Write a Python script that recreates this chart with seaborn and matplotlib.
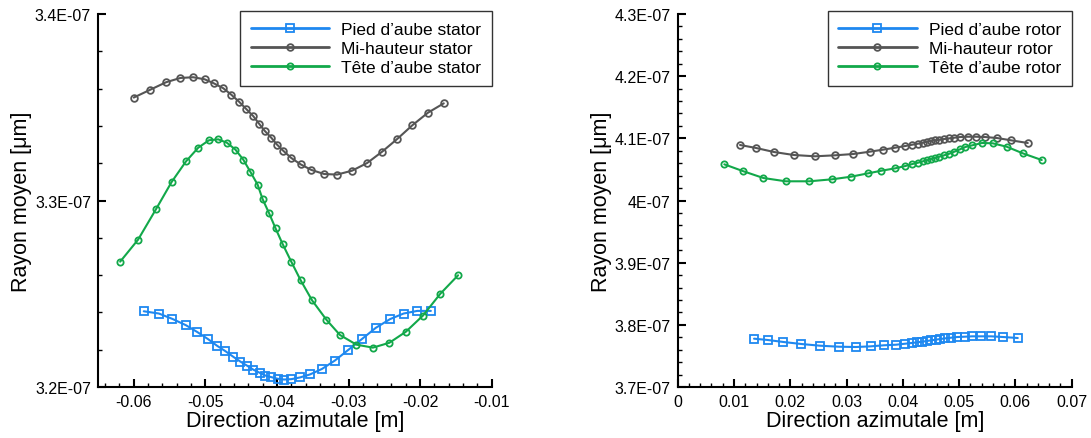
import numpy as np
import pandas as pd
import matplotlib
matplotlib.use("Agg")
import matplotlib.pyplot as plt
from matplotlib.ticker import MultipleLocator, FuncFormatter
import seaborn as sns

# ---------------- data (y in units of 1e-7) ----------------
stator_pied_x = [-0.0586, -0.0565, -0.0546, -0.0527, -0.0511, -0.0496, -0.0484, -0.0472, -0.0461, -0.0451,
                 -0.0442, -0.0433, -0.0424, -0.0416, -0.0408, -0.0399, -0.0390, -0.0380, -0.0368, -0.0354,
                 -0.0337, -0.0319, -0.0301, -0.0281, -0.0262, -0.0242, -0.0223, -0.0204, -0.0185]
stator_pied_y = [3.2406, 3.2394, 3.2365, 3.2331, 3.2294, 3.2256, 3.2222, 3.2192, 3.2162, 3.2136,
                 3.2115, 3.2093, 3.2076, 3.2061, 3.2053, 3.2044, 3.2040, 3.2042, 3.2051, 3.2067,
                 3.2097, 3.2142, 3.2197, 3.2258, 3.2317, 3.2364, 3.2394, 3.2408, 3.2408]

stator_mi_x = [-0.0600, -0.0577, -0.0555, -0.0535, -0.0517, -0.0501, -0.0488, -0.0475, -0.0464, -0.0453,
               -0.0443, -0.0433, -0.0425, -0.0417, -0.0408, -0.0400, -0.0391, -0.0380, -0.0367, -0.0352,
               -0.0334, -0.0316, -0.0295, -0.0274, -0.0253, -0.0232, -0.0211, -0.0189, -0.0167]
stator_mi_y = [3.3552, 3.3594, 3.3634, 3.3657, 3.3661, 3.3650, 3.3628, 3.3602, 3.3568, 3.3530,
               3.3491, 3.3452, 3.3412, 3.3373, 3.3337, 3.3300, 3.3266, 3.3228, 3.3194, 3.3164,
               3.3142, 3.3139, 3.3160, 3.3201, 3.3262, 3.3330, 3.3403, 3.3471, 3.3521]

stator_tete_x = [-0.0619, -0.0594, -0.0569, -0.0547, -0.0527, -0.0510, -0.0495, -0.0482, -0.0470, -0.0458,
                 -0.0447, -0.0437, -0.0427, -0.0420, -0.0411, -0.0402, -0.0392, -0.0380, -0.0367, -0.0351,
                 -0.0331, -0.0312, -0.0289, -0.0266, -0.0243, -0.0220, -0.0196, -0.0172, -0.0147]
stator_tete_y = [3.2672, 3.2790, 3.2953, 3.3100, 3.3210, 3.3283, 3.3323, 3.3328, 3.3310, 3.3273,
                 3.3219, 3.3153, 3.3085, 3.3007, 3.2932, 3.2851, 3.2766, 3.2672, 3.2573, 3.2465,
                 3.2361, 3.2279, 3.2227, 3.2211, 3.2237, 3.2296, 3.2383, 3.2499, 3.2599]

rotor_pied_x = [0.01356, 0.01600, 0.01877, 0.02191, 0.02529, 0.02866, 0.03163, 0.03430, 0.03666, 0.03879,
                0.04039, 0.04158, 0.04258, 0.04347, 0.04430, 0.04507, 0.04585, 0.04667, 0.04756, 0.04857,
                0.04969, 0.05100, 0.05230, 0.05384, 0.05568, 0.05781, 0.06042]
rotor_pied_y = [3.7777, 3.7756, 3.7724, 3.7692, 3.7664, 3.7648, 3.7643, 3.7654, 3.7671, 3.7680,
                3.7696, 3.7708, 3.7719, 3.7729, 3.7740, 3.7751, 3.7761, 3.7772, 3.7783, 3.7793,
                3.7804, 3.7809, 3.7815, 3.7815, 3.7815, 3.7804, 3.7788]

rotor_mi_x = [0.01107, 0.01391, 0.01711, 0.02061, 0.02440, 0.02795, 0.03120, 0.03412, 0.03643, 0.03867,
              0.04045, 0.04169, 0.04270, 0.04354, 0.04430, 0.04501, 0.04572, 0.04649, 0.04732, 0.04826,
              0.04915, 0.05017, 0.05153, 0.05301, 0.05466, 0.05674, 0.05923, 0.06220]
rotor_mi_y = [4.0893, 4.0845, 4.0780, 4.0732, 4.0711, 4.0727, 4.0748, 4.0785, 4.0817, 4.0850,
              4.0877, 4.0898, 4.0914, 4.0930, 4.0946, 4.0957, 4.0968, 4.0978, 4.0989, 4.1000,
              4.1010, 4.1021, 4.1026, 4.1026, 4.1021, 4.1005, 4.0968, 4.0925]

rotor_tete_x = [0.00828, 0.01155, 0.01521, 0.01919, 0.02339, 0.02742, 0.03080, 0.03382, 0.03618, 0.03867,
                0.04045, 0.04169, 0.04270, 0.04354, 0.04430, 0.04501, 0.04572, 0.04649, 0.04732, 0.04826,
                0.04915, 0.05017, 0.05111, 0.05235, 0.05407, 0.05598, 0.05846, 0.06131, 0.06468]
rotor_tete_y = [4.0582, 4.0474, 4.0362, 4.0309, 4.0309, 4.0341, 4.0383, 4.0437, 4.0479, 4.0518,
                4.0555, 4.0587, 4.0608, 4.0630, 4.0647, 4.0668, 4.0684, 4.0705, 4.0727, 4.0753,
                4.0785, 4.0824, 4.0861, 4.0888, 4.0925, 4.0920, 4.0865, 4.0759, 4.0651]

Y_UNIT = 1e-7

stator_labels = ["Pied d\u2019aube stator", "Mi-hauteur stator", "T\u00eate d\u2019aube stator"]
rotor_labels = ["Pied d\u2019aube rotor", "Mi-hauteur rotor", "T\u00eate d\u2019aube rotor"]

# ---------------- style ----------------
sns.set_theme(style="ticks")
plt.rcParams["font.family"] = ["Liberation Sans", "DejaVu Sans"]
plt.rcParams["axes.unicode_minus"] = False
plt.rcParams["text.color"] = "black"
plt.rcParams["axes.labelcolor"] = "black"

BLUE = "#1E88F0"
GRAY = "#555555"
GREEN = "#12A84A"
colors = [BLUE, GRAY, GREEN]
markers = ["s", "o", "o"]
msizes = [5.5, 4.8, 4.5]

fig = plt.figure(figsize=(10.91, 4.39), dpi=100)
axL = fig.add_axes([0.0898, 0.1162, 0.3609, 0.8496])
axR = fig.add_axes([0.6212, 0.1162, 0.3611, 0.8496])


def draw(ax, xs, ys, labels):
    for x, y, lab, c, m, ms in zip(xs, ys, labels, colors, markers, msizes):
        df = pd.DataFrame({"x": x, "y": np.asarray(y) * Y_UNIT})
        sns.lineplot(data=df, x="x", y="y", ax=ax, sort=False, estimator=None,
                     color=c, lw=1.5, marker=m, markersize=ms,
                     markerfacecolor="none", markeredgecolor=c, markeredgewidth=1.3,
                     label=lab)


draw(axL, [stator_pied_x, stator_mi_x, stator_tete_x],
     [stator_pied_y, stator_mi_y, stator_tete_y], stator_labels)
draw(axR, [rotor_pied_x, rotor_mi_x, rotor_tete_x],
     [rotor_pied_y, rotor_mi_y, rotor_tete_y], rotor_labels)

yfmt = FuncFormatter(lambda v, p: f"{v:.2G}")
xfmt = FuncFormatter(lambda v, p: "0" if abs(v) < 1e-12 else f"{v:g}")

axL.set_xlim(-0.065, -0.01)
axL.set_ylim(3.2e-7, 3.4e-7)
axL.xaxis.set_major_locator(MultipleLocator(0.01))
axL.xaxis.set_minor_locator(MultipleLocator(0.002))
axL.yaxis.set_major_locator(MultipleLocator(0.1e-7))
axL.yaxis.set_minor_locator(MultipleLocator(0.02e-7))

axR.set_xlim(0, 0.07)
axR.set_ylim(3.7e-7, 4.3e-7)
axR.xaxis.set_major_locator(MultipleLocator(0.01))
axR.xaxis.set_minor_locator(MultipleLocator(0.002))
axR.yaxis.set_major_locator(MultipleLocator(0.1e-7))
axR.yaxis.set_minor_locator(MultipleLocator(0.02e-7))

for ax in (axL, axR):
    ax.xaxis.set_major_formatter(xfmt)
    ax.yaxis.set_major_formatter(yfmt)
    ax.yaxis.get_offset_text().set_visible(False)
    for s in ("top", "right"):
        ax.spines[s].set_visible(False)
    for s in ("left", "bottom"):
        ax.spines[s].set_linewidth(1.5)
        ax.spines[s].set_color("black")
    ax.tick_params(which="major", direction="in", length=6, width=1.5,
                   labelsize=11.5, colors="black", pad=5)
    ax.tick_params(which="minor", direction="in", length=3, width=1,
                   colors="black")
    ax.set_xlabel("Direction azimutale [m]", fontsize=15.5, labelpad=1, color="black")
    ax.set_ylabel("Rayon moyen [\u03bcm]", fontsize=15.5, labelpad=2, color="black")
    ax.grid(False)
    leg = ax.legend(loc="upper right", bbox_to_anchor=(1.0, 1.008), borderaxespad=0,
                    fontsize=12.5, frameon=True, fancybox=False, handlelength=4.5,
                    handletextpad=0.7, labelspacing=0.22, borderpad=0.62)
    leg.get_frame().set_edgecolor("#333333")
    leg.get_frame().set_linewidth(1.0)
    leg.get_frame().set_alpha(1)
    for t in leg.get_texts():
        t.set_color("black")
    for line in leg.get_lines():
        line.set_linewidth(2)

fig.savefig("out.png", dpi=100)
